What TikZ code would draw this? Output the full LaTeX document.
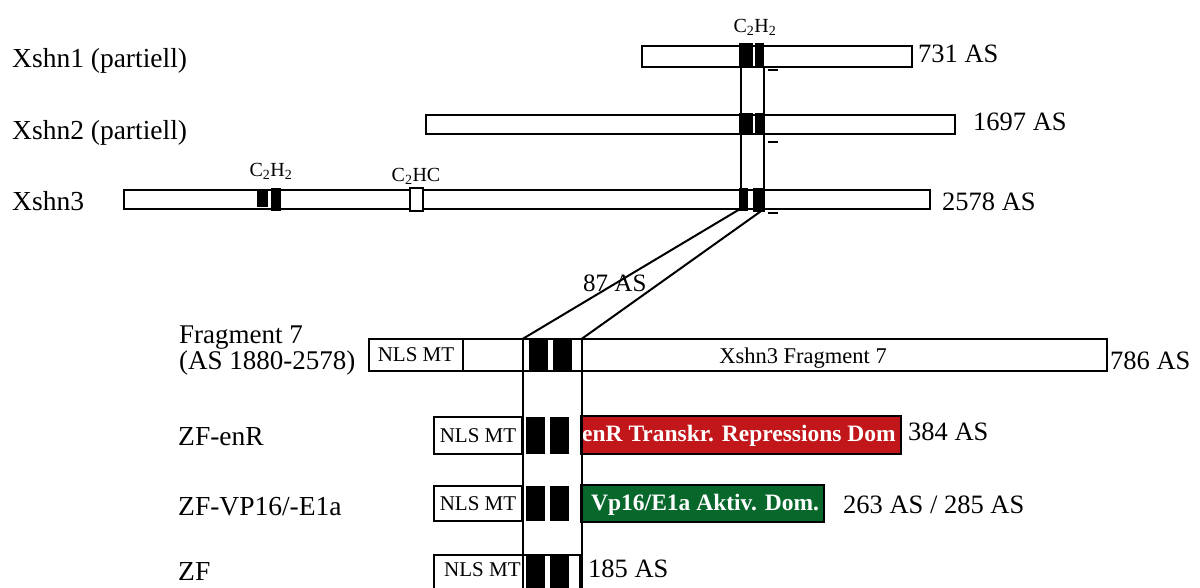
\documentclass[tikz,border=0pt]{standalone}
\usepackage{graphicx}
\usepackage{fontspec}
\setmainfont{Liberation Serif}
\definecolor{domred}{RGB}{193,23,27}
\definecolor{domgreen}{RGB}{8,104,44}
\tikzset{
  bar/.style={draw, line width=1.9pt, fill=white, inner sep=0pt, outer sep=0pt, anchor=north west},
  zfblk/.style={fill=black, draw=none, inner sep=0pt, outer sep=0pt, anchor=north west},
  namelbl/.style={inner sep=0pt, anchor=base west, font=\fontsize{27.5}{30}\selectfont},
  lenlbl/.style={inner sep=0pt, anchor=base west, font=\fontsize{26.5}{30}\selectfont},
  nlstxt/.style={font=\fontsize{21}{24}\selectfont},
  motif/.style={inner sep=0pt, anchor=base, font=\fontsize{20}{22}\selectfont},
  domtxt/.style={inner sep=0pt, anchor=base west, text=white, font=\fontsize{23.5}{26}\selectfont\bfseries},
  conn/.style={line width=2pt},
  tick/.style={line width=2pt},
}
\begin{document}
\begin{tikzpicture}[x=1pt,y=-1pt]
\useasboundingbox (0,0) rectangle (1200,587);
\clip (0,0) rectangle (1200,587);
\fill[white] (0,0) rectangle (1200,587);

% row labels
\node[namelbl] (n1) at (12,67.5) {Xshn1 (partiell)};
\node[namelbl] (n2) at (12,139) {Xshn2 (partiell)};
\node[namelbl] (n3) at (12,210) {Xshn3};
\node[namelbl, font=\fontsize{27}{30}\selectfont] (nf7a) at (179,343) {Fragment 7};
\node[namelbl, font=\fontsize{27}{30}\selectfont] (nf7b) at (179,369) {(AS 1880-2578)};
\node[namelbl] (nenr) at (178,445) {ZF-enR};
\node[namelbl] (nvp) at (178,515) {ZF-VP16/-E1a};
\node[namelbl] (nzf) at (178,580) {ZF};

% protein bars
\node[bar, minimum width=270pt, minimum height=21pt] (x1) at (642,46) {};
\node[bar, minimum width=529pt, minimum height=19pt] (x2) at (426,115) {};
\node[bar, minimum width=806pt, minimum height=19pt] (x3) at (124,190) {};
\node[bar, minimum width=738pt, minimum height=32pt] (f7) at (369,339) {};
\node[bar, minimum width=94pt, minimum height=32pt, nlstxt] (nls7) at (369,339) {NLS MT};
\node[bar, minimum width=88pt, minimum height=37pt, nlstxt] (nlsr) at (434,417) {NLS MT};
\node[bar, minimum width=320pt, minimum height=38pt, fill=domred] (red) at (581,416) {};
\node[bar, minimum width=88pt, minimum height=35pt, nlstxt] (nlsv) at (434,486) {NLS MT};
\node[bar, minimum width=243pt, minimum height=37pt, fill=domgreen] (green) at (581,485) {};
\node[bar, minimum width=146pt, minimum height=50pt] (zfb) at (434,555) {};
\node[inner sep=0pt, anchor=base west, nlstxt] (nlsz) at (444,576.5) {NLS MT};

% zinc finger blocks
\node[zfblk, minimum width=14pt, minimum height=25pt] (b1a) at (739,43) {};
\node[zfblk, minimum width=9pt, minimum height=25pt] (b1b) at (755,43) {};
\node[zfblk, minimum width=14pt, minimum height=22pt] (b2a) at (739,113) {};
\node[zfblk, minimum width=9pt, minimum height=22pt] (b2b) at (755,113) {};
\node[zfblk, minimum width=9pt, minimum height=23pt] (b3a) at (739,188) {};
\node[zfblk, minimum width=12pt, minimum height=24pt] (b3b) at (753,188) {};
\node[zfblk, minimum width=11pt, minimum height=18pt] (b3c) at (257,189) {};
\node[zfblk, minimum width=10pt, minimum height=23pt] (b3d) at (271,188) {};
\node[bar, line width=1.5pt, minimum width=13pt, minimum height=23pt] (c2hc) at (410,188) {};
\node[zfblk, minimum width=19pt, minimum height=31pt] (f7a) at (529,340) {};
\node[zfblk, minimum width=19pt, minimum height=31pt] (f7b) at (553,340) {};
\node[zfblk, minimum width=19pt, minimum height=37pt] (ra) at (526,417) {};
\node[zfblk, minimum width=19pt, minimum height=37pt] (rb) at (550,417) {};
\node[zfblk, minimum width=19pt, minimum height=35pt] (va) at (526,486) {};
\node[zfblk, minimum width=19pt, minimum height=35pt] (vb) at (550,486) {};
\node[zfblk, minimum width=19pt, minimum height=45pt] (za) at (526,556) {};
\node[zfblk, minimum width=19pt, minimum height=45pt] (zb) at (550,556) {};

% motif labels
\node[motif] (m1) at (755,32) {C\textsubscript{2}H\textsubscript{2}};
\node[motif] (m2) at (271,176.5) {C\textsubscript{2}H\textsubscript{2}};
\node[motif] (m3) at (416,181.5) {C\textsubscript{2}HC};

% inner texts
\node[inner sep=0pt, anchor=base, font=\fontsize{22.5}{24}\selectfont] (f7t) at (803,363) {Xshn3 Fragment 7};
\node[domtxt] (redt) at (582,441.5) {enR Transkr. Repressions Dom};
\node[domtxt] (greent) at (591,510) {Vp16/E1a Aktiv. Dom.};

% length labels
\node[lenlbl] (l1) at (918,62.5) {731 AS};
\node[lenlbl] (l2) at (973,130) {1697 AS};
\node[lenlbl] (l3) at (942,210) {2578 AS};
\node[lenlbl] (l4) at (1110,369.5) {786 AS};
\node[lenlbl] (l5) at (908,440) {384 AS};
\node[lenlbl] (l6) at (843,513) {263 AS / 285 AS};
\node[lenlbl] (l7) at (588,577) {185 AS};
\node[lenlbl, font=\fontsize{25}{28}\selectfont] (l87) at (583,291) {87 AS};

% connector coordinates
\coordinate (t1L) at (741,67);
\coordinate (t1R) at (764,67);
\coordinate (t3L) at (741,190);
\coordinate (t3R) at (764,190);
\coordinate (b3L) at (740,209);
\coordinate (b3R) at (764,209);
\coordinate (f7L) at (522.5,339);
\coordinate (f7R) at (581.5,339);
\coordinate (eL) at (522.5,600);
\coordinate (eR) at (581.5,600);

\draw[conn] (t1L) -- (t3L);
\draw[conn] (t1R) -- (t3R);
\draw[conn] (b3L) -- (f7L);
\draw[conn] (b3R) -- (f7R);
\draw[conn] (f7L) -- (eL);
\draw[conn] (f7R) -- (eR);

% small dash marks
\draw[tick] (768,70) -- (778,70);
\draw[tick] (768,142) -- (778,142);
\draw[tick] (768,213) -- (778,213);
\end{tikzpicture}
\end{document}
